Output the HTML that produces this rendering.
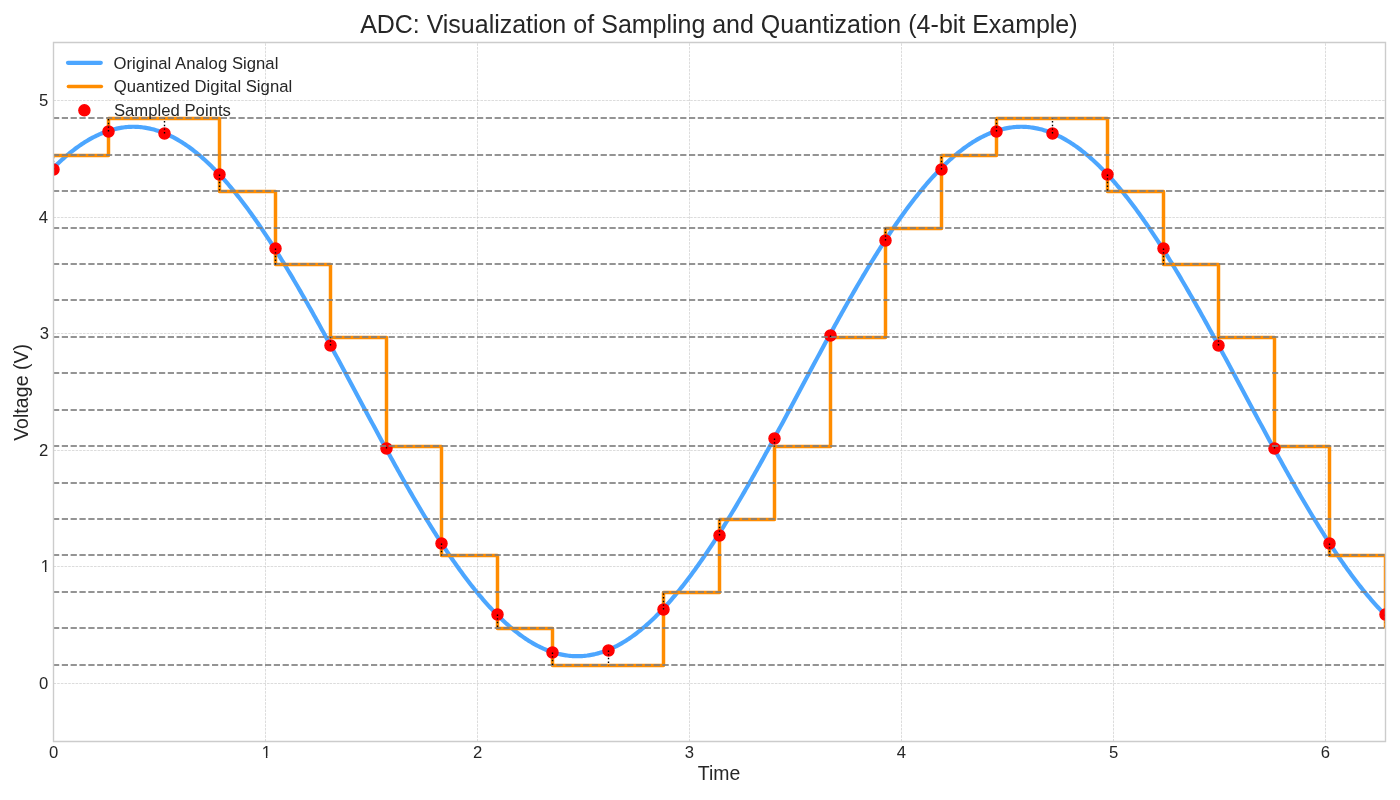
<!DOCTYPE html>
<html><head><meta charset="utf-8"><title>ADC: Visualization of Sampling and Quantization (4-bit Example)</title>
<style>html,body{margin:0;padding:0;background:#fff;overflow:hidden}svg{display:block;will-change:transform}</style>
</head><body>
<svg width="1400" height="800" viewBox="0 0 1400 800"><defs><clipPath id="c"><rect x="53" y="42" width="1332" height="699"/></clipPath></defs>
<rect width="1400" height="800" fill="#fff"/>
<path d="M53.5 741.5V42.5M265.5 741.5V42.5M477.5 741.5V42.5M689.5 741.5V42.5M901.5 741.5V42.5M1113.5 741.5V42.5M1325.5 741.5V42.5M53.5 683.5H1385.5M53.5 566.5H1385.5M53.5 450.5H1385.5M53.5 333.5H1385.5M53.5 217.5H1385.5M53.5 100.5H1385.5" fill="none" stroke="#cccccc" stroke-width="0.6944" stroke-dasharray="2.5694,1.1111"/>
<g clip-path="url(#c)">
<polyline points="52.60,168.75 53.93,167.41 55.27,166.09 56.60,164.80 57.93,163.52 59.27,162.26 60.60,161.02 61.93,159.80 63.27,158.60 64.60,157.43 65.93,156.27 67.27,155.14 68.60,154.02 69.93,152.93 71.27,151.86 72.60,150.81 73.93,149.78 75.27,148.77 76.60,147.79 77.93,146.82 79.27,145.88 80.60,144.96 81.93,144.06 83.27,143.19 84.60,142.33 85.93,141.50 87.27,140.69 88.60,139.90 89.93,139.14 91.27,138.40 92.60,137.68 93.93,136.98 95.27,136.30 96.60,135.65 97.93,135.02 99.27,134.42 100.60,133.83 101.93,133.27 103.27,132.73 104.60,132.22 105.93,131.73 107.27,131.26 108.60,130.81 109.93,130.39 111.27,129.99 112.60,129.62 113.93,129.26 115.27,128.94 116.60,128.63 117.93,128.35 119.27,128.09 120.60,127.85 121.93,127.64 123.27,127.45 124.60,127.29 125.93,127.15 127.27,127.03 128.60,126.93 129.93,126.86 131.27,126.82 132.60,126.79 133.93,126.79 135.27,126.82 136.60,126.86 137.93,126.93 139.27,127.03 140.60,127.15 141.93,127.29 143.27,127.45 144.60,127.64 145.93,127.85 147.27,128.09 148.60,128.35 149.93,128.63 151.27,128.93 152.60,129.26 153.93,129.61 155.27,129.99 156.60,130.39 157.93,130.81 159.27,131.26 160.60,131.72 161.93,132.22 163.27,132.73 164.60,133.27 165.93,133.83 167.27,134.41 168.60,135.02 169.93,135.65 171.27,136.30 172.60,136.97 173.93,137.67 175.27,138.39 176.60,139.13 177.93,139.90 179.27,140.69 180.60,141.50 181.93,142.33 183.27,143.18 184.60,144.06 185.93,144.96 187.27,145.88 188.60,146.82 189.93,147.78 191.27,148.77 192.60,149.77 193.93,150.80 195.27,151.85 196.60,152.92 197.93,154.02 199.27,155.13 200.60,156.26 201.93,157.42 203.27,158.60 204.60,159.79 205.93,161.01 207.27,162.25 208.60,163.51 209.93,164.79 211.27,166.09 212.60,167.41 213.93,168.75 215.27,170.11 216.60,171.48 217.93,172.88 219.27,174.30 220.60,175.74 221.93,177.19 223.27,178.67 224.60,180.16 225.93,181.68 227.27,183.21 228.60,184.76 229.93,186.33 231.27,187.91 232.60,189.52 233.93,191.14 235.27,192.78 236.60,194.44 237.93,196.12 239.27,197.81 240.60,199.52 241.93,201.25 243.27,203.00 244.60,204.76 245.93,206.54 247.27,208.33 248.60,210.14 249.93,211.97 251.27,213.81 252.60,215.67 253.93,217.55 255.27,219.44 256.60,221.34 257.93,223.26 259.27,225.20 260.60,227.15 261.93,229.11 263.27,231.09 264.60,233.09 265.93,235.09 267.27,237.11 268.60,239.15 269.93,241.20 271.27,243.26 272.60,245.34 273.93,247.43 275.27,249.53 276.60,251.64 277.93,253.77 279.27,255.91 280.60,258.06 281.93,260.22 283.27,262.39 284.60,264.58 285.93,266.78 287.27,268.98 288.60,271.20 289.93,273.43 291.27,275.67 292.60,277.92 293.93,280.19 295.27,282.46 296.60,284.74 297.93,287.03 299.27,289.33 300.60,291.63 301.93,293.95 303.27,296.28 304.60,298.61 305.93,300.95 307.27,303.30 308.60,305.66 309.93,308.03 311.27,310.40 312.60,312.78 313.93,315.17 315.27,317.57 316.60,319.97 317.93,322.37 319.27,324.79 320.60,327.21 321.93,329.63 323.27,332.06 324.60,334.50 325.93,336.94 327.27,339.39 328.60,341.84 329.93,344.29 331.27,346.75 332.60,349.22 333.93,351.68 335.27,354.15 336.60,356.63 337.93,359.10 339.27,361.58 340.60,364.07 341.93,366.55 343.27,369.04 344.60,371.53 345.93,374.02 347.27,376.51 348.60,379.01 349.93,381.50 351.27,384.00 352.60,386.49 353.93,388.99 355.27,391.49 356.60,393.99 357.93,396.48 359.27,398.98 360.60,401.47 361.93,403.97 363.27,406.46 364.60,408.96 365.93,411.45 367.27,413.94 368.60,416.42 369.93,418.91 371.27,421.39 372.60,423.87 373.93,426.35 375.27,428.82 376.60,431.29 377.93,433.76 379.27,436.22 380.60,438.68 381.93,441.14 383.27,443.59 384.60,446.03 385.93,448.48 387.27,450.91 388.60,453.34 389.93,455.77 391.27,458.19 392.60,460.60 393.93,463.01 395.27,465.41 396.60,467.81 397.93,470.19 399.27,472.57 400.60,474.95 401.93,477.31 403.27,479.67 404.60,482.02 405.93,484.37 407.27,486.70 408.60,489.03 409.93,491.34 411.27,493.65 412.60,495.95 413.93,498.24 415.27,500.52 416.60,502.79 417.93,505.05 419.27,507.30 420.60,509.54 421.93,511.77 423.27,513.99 424.60,516.20 425.93,518.40 427.27,520.58 428.60,522.76 429.93,524.92 431.27,527.07 432.60,529.21 433.93,531.34 435.27,533.45 436.60,535.55 437.93,537.64 439.27,539.72 440.60,541.78 441.93,543.83 443.27,545.86 444.60,547.89 445.93,549.89 447.27,551.89 448.60,553.87 449.93,555.83 451.27,557.78 452.60,559.72 453.93,561.64 455.27,563.54 456.60,565.43 457.93,567.31 459.27,569.17 460.60,571.01 461.93,572.84 463.27,574.65 464.60,576.44 465.93,578.22 467.27,579.98 468.60,581.73 469.93,583.46 471.27,585.17 472.60,586.86 473.93,588.54 475.27,590.20 476.60,591.84 477.93,593.46 479.27,595.07 480.60,596.65 481.93,598.22 483.27,599.77 484.60,601.30 485.93,602.82 487.27,604.31 488.60,605.79 489.93,607.24 491.27,608.68 492.60,610.10 493.93,611.50 495.27,612.88 496.60,614.24 497.93,615.58 499.27,616.90 500.60,618.19 501.93,619.47 503.27,620.73 504.60,621.97 505.93,623.19 507.27,624.39 508.60,625.56 509.93,626.72 511.27,627.85 512.60,628.97 513.93,630.06 515.27,631.13 516.60,632.18 517.93,633.21 519.27,634.22 520.60,635.20 521.93,636.17 523.27,637.11 524.60,638.03 525.93,638.93 527.27,639.80 528.60,640.66 529.93,641.49 531.27,642.30 532.60,643.09 533.93,643.85 535.27,644.59 536.60,645.31 537.93,646.01 539.27,646.69 540.60,647.34 541.93,647.97 543.27,648.57 544.60,649.16 545.93,649.72 547.27,650.26 548.60,650.77 549.93,651.26 551.27,651.73 552.60,652.18 553.93,652.60 555.27,653.00 556.60,653.37 557.93,653.73 559.27,654.05 560.60,654.36 561.93,654.64 563.27,654.90 564.60,655.14 565.93,655.35 567.27,655.54 568.60,655.70 569.93,655.84 571.27,655.96 572.60,656.06 573.93,656.13 575.27,656.17 576.60,656.20 577.93,656.20 579.27,656.17 580.60,656.13 581.93,656.06 583.27,655.96 584.60,655.84 585.93,655.70 587.27,655.54 588.60,655.35 589.93,655.14 591.27,654.90 592.60,654.64 593.93,654.36 595.27,654.06 596.60,653.73 597.93,653.38 599.27,653.00 600.60,652.60 601.93,652.18 603.27,651.73 604.60,651.27 605.93,650.77 607.27,650.26 608.60,649.72 609.93,649.16 611.27,648.58 612.60,647.97 613.93,647.34 615.27,646.69 616.60,646.02 617.93,645.32 619.27,644.60 620.60,643.86 621.93,643.09 623.27,642.30 624.60,641.49 625.93,640.66 627.27,639.81 628.60,638.93 629.93,638.03 631.27,637.11 632.60,636.17 633.93,635.21 635.27,634.22 636.60,633.22 637.93,632.19 639.27,631.14 640.60,630.07 641.93,628.97 643.27,627.86 644.60,626.73 645.93,625.57 647.27,624.39 648.60,623.20 649.93,621.98 651.27,620.74 652.60,619.48 653.93,618.20 655.27,616.90 656.60,615.58 657.93,614.24 659.27,612.88 660.60,611.51 661.93,610.11 663.27,608.69 664.60,607.25 665.93,605.80 667.27,604.32 668.60,602.83 669.93,601.31 671.27,599.78 672.60,598.23 673.93,596.66 675.27,595.08 676.60,593.47 677.93,591.85 679.27,590.21 680.60,588.55 681.93,586.87 683.27,585.18 684.60,583.47 685.93,581.74 687.27,579.99 688.60,578.23 689.93,576.45 691.27,574.66 692.60,572.85 693.93,571.02 695.27,569.18 696.60,567.32 697.93,565.44 699.27,563.55 700.60,561.65 701.93,559.73 703.27,557.79 704.60,555.84 705.93,553.88 707.27,551.90 708.60,549.90 709.93,547.90 711.27,545.88 712.60,543.84 713.93,541.79 715.27,539.73 716.60,537.65 717.93,535.56 719.27,533.46 720.60,531.35 721.93,529.22 723.27,527.08 724.60,524.93 725.93,522.77 727.27,520.60 728.60,518.41 729.93,516.21 731.27,514.01 732.60,511.79 733.93,509.56 735.27,507.32 736.60,505.07 737.93,502.80 739.27,500.53 740.60,498.25 741.93,495.96 743.27,493.66 744.60,491.36 745.93,489.04 747.27,486.71 748.60,484.38 749.93,482.04 751.27,479.69 752.60,477.33 753.93,474.96 755.27,472.59 756.60,470.21 757.93,467.82 759.27,465.42 760.60,463.02 761.93,460.62 763.27,458.20 764.60,455.78 765.93,453.36 767.27,450.93 768.60,448.49 769.93,446.05 771.27,443.60 772.60,441.15 773.93,438.70 775.27,436.24 776.60,433.77 777.93,431.31 779.27,428.84 780.60,426.36 781.93,423.89 783.27,421.41 784.60,418.92 785.93,416.44 787.27,413.95 788.60,411.46 789.93,408.97 791.27,406.48 792.60,403.98 793.93,401.49 795.27,398.99 796.60,396.50 797.93,394.00 799.27,391.50 800.60,389.00 801.93,386.51 803.27,384.01 804.60,381.52 805.93,379.02 807.27,376.53 808.60,374.03 809.93,371.54 811.27,369.05 812.60,366.57 813.93,364.08 815.27,361.60 816.60,359.12 817.93,356.64 819.27,354.17 820.60,351.70 821.93,349.23 823.27,346.77 824.60,344.31 825.93,341.85 827.27,339.40 828.60,336.96 829.93,334.51 831.27,332.08 832.60,329.65 833.93,327.22 835.27,324.80 836.60,322.39 837.93,319.98 839.27,317.58 840.60,315.18 841.93,312.80 843.27,310.42 844.60,308.04 845.93,305.68 847.27,303.32 848.60,300.97 849.93,298.62 851.27,296.29 852.60,293.96 853.93,291.65 855.27,289.34 856.60,287.04 857.93,284.75 859.27,282.47 860.60,280.20 861.93,277.94 863.27,275.69 864.60,273.45 865.93,271.22 867.27,269.00 868.60,266.79 869.93,264.59 871.27,262.41 872.60,260.23 873.93,258.07 875.27,255.92 876.60,253.78 877.93,251.65 879.27,249.54 880.60,247.44 881.93,245.35 883.27,243.27 884.60,241.21 885.93,239.16 887.27,237.13 888.60,235.10 889.93,233.10 891.27,231.10 892.60,229.12 893.93,227.16 895.27,225.21 896.60,223.27 897.93,221.35 899.27,219.45 900.60,217.56 901.93,215.68 903.27,213.82 904.60,211.98 905.93,210.15 907.27,208.34 908.60,206.55 909.93,204.77 911.27,203.01 912.60,201.26 913.93,199.53 915.27,197.82 916.60,196.13 917.93,194.45 919.27,192.79 920.60,191.15 921.93,189.53 923.27,187.92 924.60,186.34 925.93,184.77 927.27,183.22 928.60,181.69 929.93,180.17 931.27,178.68 932.60,177.20 933.93,175.75 935.27,174.31 936.60,172.89 937.93,171.49 939.27,170.11 940.60,168.75 941.93,167.41 943.27,166.09 944.60,164.80 945.93,163.52 947.27,162.26 948.60,161.02 949.93,159.80 951.27,158.60 952.60,157.43 953.93,156.27 955.27,155.14 956.60,154.02 957.93,152.93 959.27,151.86 960.60,150.81 961.93,149.78 963.27,148.77 964.60,147.79 965.93,146.82 967.27,145.88 968.60,144.96 969.93,144.06 971.27,143.19 972.60,142.33 973.93,141.50 975.27,140.69 976.60,139.90 977.93,139.14 979.27,138.40 980.60,137.68 981.93,136.98 983.27,136.30 984.60,135.65 985.93,135.02 987.27,134.42 988.60,133.83 989.93,133.27 991.27,132.73 992.60,132.22 993.93,131.73 995.27,131.26 996.60,130.81 997.93,130.39 999.27,129.99 1000.60,129.62 1001.93,129.26 1003.27,128.94 1004.60,128.63 1005.93,128.35 1007.27,128.09 1008.60,127.85 1009.93,127.64 1011.27,127.45 1012.60,127.29 1013.93,127.15 1015.27,127.03 1016.60,126.93 1017.93,126.86 1019.27,126.82 1020.60,126.79 1021.93,126.79 1023.27,126.82 1024.60,126.86 1025.93,126.93 1027.27,127.03 1028.60,127.15 1029.93,127.29 1031.27,127.45 1032.60,127.64 1033.93,127.85 1035.27,128.09 1036.60,128.35 1037.93,128.63 1039.27,128.93 1040.60,129.26 1041.93,129.61 1043.27,129.99 1044.60,130.39 1045.93,130.81 1047.27,131.26 1048.60,131.72 1049.93,132.22 1051.27,132.73 1052.60,133.27 1053.93,133.83 1055.27,134.41 1056.60,135.02 1057.93,135.65 1059.27,136.30 1060.60,136.97 1061.93,137.67 1063.27,138.39 1064.60,139.13 1065.93,139.90 1067.27,140.69 1068.60,141.50 1069.93,142.33 1071.27,143.18 1072.60,144.06 1073.93,144.96 1075.27,145.88 1076.60,146.82 1077.93,147.78 1079.27,148.77 1080.60,149.77 1081.93,150.80 1083.27,151.85 1084.60,152.92 1085.93,154.02 1087.27,155.13 1088.60,156.26 1089.93,157.42 1091.27,158.60 1092.60,159.79 1093.93,161.01 1095.27,162.25 1096.60,163.51 1097.93,164.79 1099.27,166.09 1100.60,167.41 1101.93,168.75 1103.27,170.11 1104.60,171.48 1105.93,172.88 1107.27,174.30 1108.60,175.74 1109.93,177.19 1111.27,178.67 1112.60,180.16 1113.93,181.68 1115.27,183.21 1116.60,184.76 1117.93,186.33 1119.27,187.91 1120.60,189.52 1121.93,191.14 1123.27,192.78 1124.60,194.44 1125.93,196.12 1127.27,197.81 1128.60,199.52 1129.93,201.25 1131.27,203.00 1132.60,204.76 1133.93,206.54 1135.27,208.33 1136.60,210.14 1137.93,211.97 1139.27,213.81 1140.60,215.67 1141.93,217.55 1143.27,219.44 1144.60,221.34 1145.93,223.26 1147.27,225.20 1148.60,227.15 1149.93,229.11 1151.27,231.09 1152.60,233.09 1153.93,235.09 1155.27,237.11 1156.60,239.15 1157.93,241.20 1159.27,243.26 1160.60,245.34 1161.93,247.43 1163.27,249.53 1164.60,251.64 1165.93,253.77 1167.27,255.91 1168.60,258.06 1169.93,260.22 1171.27,262.39 1172.60,264.58 1173.93,266.78 1175.27,268.98 1176.60,271.20 1177.93,273.43 1179.27,275.67 1180.60,277.92 1181.93,280.19 1183.27,282.46 1184.60,284.74 1185.93,287.03 1187.27,289.33 1188.60,291.63 1189.93,293.95 1191.27,296.28 1192.60,298.61 1193.93,300.95 1195.27,303.30 1196.60,305.66 1197.93,308.03 1199.27,310.40 1200.60,312.78 1201.93,315.17 1203.27,317.57 1204.60,319.97 1205.93,322.37 1207.27,324.79 1208.60,327.21 1209.93,329.63 1211.27,332.06 1212.60,334.50 1213.93,336.94 1215.27,339.39 1216.60,341.84 1217.93,344.29 1219.27,346.75 1220.60,349.22 1221.93,351.68 1223.27,354.15 1224.60,356.63 1225.93,359.10 1227.27,361.58 1228.60,364.07 1229.93,366.55 1231.27,369.04 1232.60,371.53 1233.93,374.02 1235.27,376.51 1236.60,379.01 1237.93,381.50 1239.27,384.00 1240.60,386.49 1241.93,388.99 1243.27,391.49 1244.60,393.99 1245.93,396.48 1247.27,398.98 1248.60,401.47 1249.93,403.97 1251.27,406.46 1252.60,408.96 1253.93,411.45 1255.27,413.94 1256.60,416.42 1257.93,418.91 1259.27,421.39 1260.60,423.87 1261.93,426.35 1263.27,428.82 1264.60,431.29 1265.93,433.76 1267.27,436.22 1268.60,438.68 1269.93,441.14 1271.27,443.59 1272.60,446.03 1273.93,448.48 1275.27,450.91 1276.60,453.34 1277.93,455.77 1279.27,458.19 1280.60,460.60 1281.93,463.01 1283.27,465.41 1284.60,467.81 1285.93,470.19 1287.27,472.57 1288.60,474.95 1289.93,477.31 1291.27,479.67 1292.60,482.02 1293.93,484.37 1295.27,486.70 1296.60,489.03 1297.93,491.34 1299.27,493.65 1300.60,495.95 1301.93,498.24 1303.27,500.52 1304.60,502.79 1305.93,505.05 1307.27,507.30 1308.60,509.54 1309.93,511.77 1311.27,513.99 1312.60,516.20 1313.93,518.40 1315.27,520.58 1316.60,522.76 1317.93,524.92 1319.27,527.07 1320.60,529.21 1321.93,531.34 1323.27,533.45 1324.60,535.55 1325.93,537.64 1327.27,539.72 1328.60,541.78 1329.93,543.83 1331.27,545.86 1332.60,547.89 1333.93,549.89 1335.27,551.89 1336.60,553.87 1337.93,555.83 1339.27,557.78 1340.60,559.72 1341.93,561.64 1343.27,563.54 1344.60,565.43 1345.93,567.31 1347.27,569.17 1348.60,571.01 1349.93,572.84 1351.27,574.65 1352.60,576.44 1353.93,578.22 1355.27,579.98 1356.60,581.73 1357.93,583.46 1359.27,585.17 1360.60,586.86 1361.93,588.54 1363.27,590.20 1364.60,591.84 1365.93,593.46 1367.27,595.07 1368.60,596.65 1369.93,598.22 1371.27,599.77 1372.60,601.30 1373.93,602.82 1375.27,604.31 1376.60,605.79 1377.93,607.24 1379.27,608.68 1380.60,610.10 1381.93,611.50 1383.27,612.88 1384.60,614.24" fill="none" stroke="#4ca6ff" stroke-width="4.1667" stroke-linecap="round" stroke-linejoin="round"/>
<path d="M53.5 155.5H108.5V118.5H164.5H219.5V191.5H275.5V264.5H330.5V337.5H386.5V446.5H441.5V555.5H497.5V628.5H552.5V665.5H608.5H663.5V592.5H719.5V519.5H774.5V446.5H830.5V337.5H885.5V228.5H941.5V155.5H996.5V118.5H1052.5H1107.5V191.5H1163.5V264.5H1218.5V337.5H1274.5V446.5H1329.5V555.5H1385.5V628.5" fill="none" stroke="#ff8c00" stroke-width="3.4722" stroke-linejoin="round"/>
<g fill="#ff0000" stroke="#ff0000" stroke-width="1.3889">
<circle cx="53.5" cy="169.5" r="5.5556"/>
<circle cx="108.5" cy="131.5" r="5.5556"/>
<circle cx="164.5" cy="133.5" r="5.5556"/>
<circle cx="219.5" cy="174.5" r="5.5556"/>
<circle cx="275.5" cy="248.5" r="5.5556"/>
<circle cx="330.5" cy="345.5" r="5.5556"/>
<circle cx="386.5" cy="448.5" r="5.5556"/>
<circle cx="441.5" cy="543.5" r="5.5556"/>
<circle cx="497.5" cy="614.5" r="5.5556"/>
<circle cx="552.5" cy="652.5" r="5.5556"/>
<circle cx="608.5" cy="650.5" r="5.5556"/>
<circle cx="663.5" cy="609.5" r="5.5556"/>
<circle cx="719.5" cy="535.5" r="5.5556"/>
<circle cx="774.5" cy="438.5" r="5.5556"/>
<circle cx="830.5" cy="335.5" r="5.5556"/>
<circle cx="885.5" cy="240.5" r="5.5556"/>
<circle cx="941.5" cy="169.5" r="5.5556"/>
<circle cx="996.5" cy="131.5" r="5.5556"/>
<circle cx="1052.5" cy="133.5" r="5.5556"/>
<circle cx="1107.5" cy="174.5" r="5.5556"/>
<circle cx="1163.5" cy="248.5" r="5.5556"/>
<circle cx="1218.5" cy="345.5" r="5.5556"/>
<circle cx="1274.5" cy="448.5" r="5.5556"/>
<circle cx="1329.5" cy="543.5" r="5.5556"/>
<circle cx="1385.5" cy="614.5" r="5.5556"/>
</g>
<path id="ql" d="M53 665H1385M53 628H1385M53 592H1385M53 555H1385M53 519H1385M53 483H1385M53 446H1385M53 410H1385M53 373H1385M53 337H1385M53 300H1385M53 264H1385M53 228H1385M53 191H1385M53 155H1385M53 118H1385" fill="none" stroke="#808080" stroke-width="1.6667" stroke-dasharray="6.1667,2.6667"/>
<use href="#ql" stroke-opacity="0.45"/>
<g fill="none" stroke="#000" stroke-width="1.3889" stroke-dasharray="1.3889,2.2917"><path d="M53.5 169.5V155.5"/><path d="M108.5 131.5V118.5"/><path d="M164.5 133.5V118.5"/><path d="M219.5 174.5V191.5"/><path d="M275.5 248.5V264.5"/><path d="M330.5 345.5V337.5"/><path d="M386.5 448.5V446.5"/><path d="M441.5 543.5V555.5"/><path d="M497.5 614.5V628.5"/><path d="M552.5 652.5V665.5"/><path d="M608.5 650.5V665.5"/><path d="M663.5 609.5V592.5"/><path d="M719.5 535.5V519.5"/><path d="M774.5 438.5V446.5"/><path d="M830.5 335.5V337.5"/><path d="M885.5 240.5V228.5"/><path d="M941.5 169.5V155.5"/><path d="M996.5 131.5V118.5"/><path d="M1052.5 133.5V118.5"/><path d="M1107.5 174.5V191.5"/><path d="M1163.5 248.5V264.5"/><path d="M1218.5 345.5V337.5"/><path d="M1274.5 448.5V446.5"/><path d="M1329.5 543.5V555.5"/><path d="M1385.5 614.5V628.5"/></g>
</g>
<path d="M53.5 741.5H1385.5V42.5H53.5Z" fill="none" stroke="#cccccc" stroke-width="1.3889" stroke-linejoin="miter" stroke-linecap="square"/>
<defs><clipPath id="k1"><rect x="259.7097" y="734.6662" width="13.2694" height="21.3338"/><rect x="265.9009" y="756" width="1.473" height="4"/></clipPath><clipPath id="k2"><rect x="38.7696" y="548.6662" width="13.2694" height="21.3338"/><rect x="44.9608" y="570" width="1.473" height="4"/></clipPath></defs>
<g fill="#262626" font-family="'Liberation Sans', Arial, Helvetica, sans-serif"><text x="53.75" y="757.734" font-size="16.667" text-anchor="middle">0</text><text clip-path="url(#k1)" x="266.3444" y="757.734" font-size="16.667" text-anchor="middle">1</text><text x="477.6388" y="757.734" font-size="16.667" text-anchor="middle">2</text><text x="689.4332" y="757.734" font-size="16.667" text-anchor="middle">3</text><text x="901.4275" y="757.734" font-size="16.667" text-anchor="middle">4</text><text x="1113.7219" y="757.734" font-size="16.667" text-anchor="middle">5</text><text x="1325.4163" y="757.734" font-size="16.667" text-anchor="middle">6</text><text x="48.289" y="688.857" font-size="16.667" text-anchor="end">0</text><text clip-path="url(#k2)" x="50.039" y="572.247" font-size="16.667" text-anchor="end">1</text><text x="48.239" y="455.637" font-size="16.667" text-anchor="end">2</text><text x="49.139" y="339.027" font-size="16.667" text-anchor="end">3</text><text x="48.039" y="223.417" font-size="16.667" text-anchor="end">4</text><text x="48.289" y="105.807" font-size="16.667" text-anchor="end">5</text><text x="697.86 708.985 713.36 729.61" y="780.239" font-size="19.4444">Time</text><text x="-20.38 -8.505 2.37 6.745 12.12 23.12 34.12 44.995 50.37 56.995 69.995" y="392.395" font-size="19.4444" transform="rotate(-90 28.08 392.395)">Voltage (V)</text><text x="360.215 376.84 394.84 412.84 419.715 426.715 442.84 448.34 460.84 474.84 488.715 494.215 499.715 512.215 526.09 532.965 538.465 552.34 566.34 573.34 587.215 594.215 601.215 617.965 631.84 652.59 666.465 671.965 677.465 691.465 705.215 712.215 726.09 740.09 753.84 760.84 780.34 794.34 808.215 822.215 829.09 834.59 847.09 860.965 867.84 873.34 887.215 901.215 908.215 916.59 930.59 938.965 952.84 958.34 965.215 972.215 988.84 1001.34 1015.215 1035.965 1049.84 1055.34 1069.215" y="32.652" font-size="25">ADC: Visualization of Sampling and Quantization (4-bit Example)</text><text x="113.567 126.442 132.067 135.817 145.192 148.942 158.192 167.567 171.317 175.067 186.192 195.442 204.817 208.567 217.942 227.317 231.942 242.942 246.692 256.067 265.317 274.692" y="69.063" font-size="16.6667">Original Analog Signal</text><text x="113.767 126.642 136.017 145.392 154.642 159.267 163.017 171.267 180.517 189.892 194.517 206.517 210.267 219.642 223.392 228.017 237.392 241.142 245.767 256.767 260.517 269.892 279.142 288.517" y="91.733" font-size="16.6667">Quantized Digital Signal</text><text x="113.967 124.967 134.342 148.217 157.467 161.217 170.467 179.842 184.467 195.592 204.967 208.717 217.967 222.592" y="115.503" font-size="16.6667">Sampled Points</text></g>
<path d="M67.98 62.87H100.8" stroke="#4ca6ff" stroke-width="4.1667" stroke-linecap="round"/>
<path d="M68.4 86.5H101.4" stroke="#ff8c00" stroke-width="3.4722" stroke-linecap="round"/>
<circle cx="84.4" cy="110.35" r="5.5556" fill="#ff0000" stroke="#ff0000" stroke-width="1.3889"/></svg>
</body></html>
